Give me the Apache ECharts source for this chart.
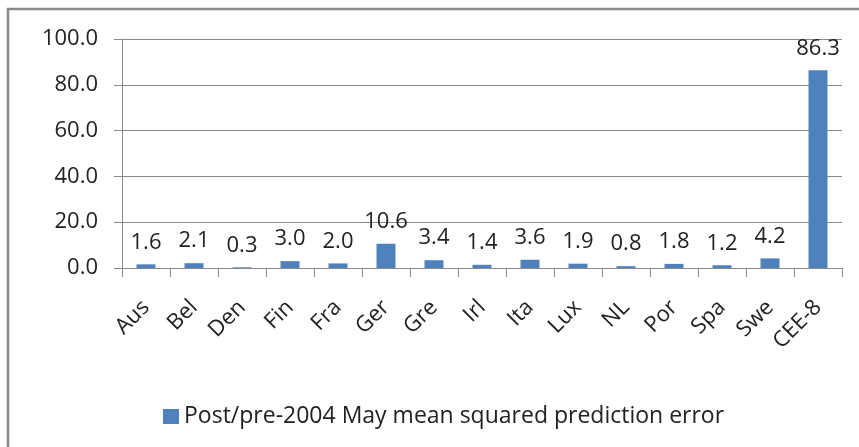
<!DOCTYPE html>
<html><head><meta charset="utf-8">
<script src="https://cdn.jsdelivr.net/npm/echarts@6/dist/echarts.min.js"></script>
<style>html,body{margin:0;padding:0;background:#fff}#c{width:859px;height:447px}</style>
</head><body><div id="c"></div>
<script>
const categories = ["Aus","Bel","Den","Fin","Fra","Ger","Gre","Irl","Ita","Lux","NL","Por","Spa","Swe","CEE-8"];
const values = [1.6,2.1,0.3,3.0,2.0,10.6,3.4,1.4,3.6,1.9,0.8,1.8,1.2,4.2,86.3];
const seriesName = "Post/pre-2004 May mean squared prediction error";
const yTicks = {min:0, max:100, interval:20};

const FONT = "Open Sans";
const chart = echarts.init(document.getElementById('c'));
chart.setOption({
  animation:false,
  textStyle:{fontFamily:FONT},
  graphic:[{type:'rect',shape:{x:8,y:9,width:900,height:500},style:{fill:'none',stroke:'#8a8a8a',lineWidth:2.5},z:-1}],
  grid:{left:122,right:17,top:39,bottom:179,containLabel:false},
  legend:{top:400,left:158,itemWidth:16,itemHeight:15,icon:'rect',itemGap:8,
    textStyle:{fontSize:23,color:'#222',fontFamily:FONT},data:[seriesName]},
  xAxis:{type:'category',data:categories,
    axisLine:{lineStyle:{color:'#8a8a8a',width:1}},
    axisTick:{show:true,alignWithLabel:false,length:9,lineStyle:{color:'#8a8a8a'}},
    axisLabel:{rotate:45,fontSize:22,color:'#222',margin:36,interval:0,fontFamily:FONT}},
  yAxis:{type:'value',min:yTicks.min,max:yTicks.max,interval:yTicks.interval,
    axisLine:{show:true,lineStyle:{color:'#8a8a8a'}},
    axisTick:{show:true,length:8,lineStyle:{color:'#8a8a8a'}},
    splitLine:{lineStyle:{color:'#8a8a8a',width:1}},
    axisLabel:{fontSize:22,color:'#222',margin:24,formatter:v=>v.toFixed(1),fontFamily:FONT}},
  series:[{name:seriesName,type:'bar',data:values,barWidth:19,
    itemStyle:{color:'#4f81bd'},
    label:{show:true,position:'top',distance:11,fontSize:22,color:'#222',fontFamily:FONT,formatter:p=>p.value.toFixed(1)}}]
});
</script></body></html>
